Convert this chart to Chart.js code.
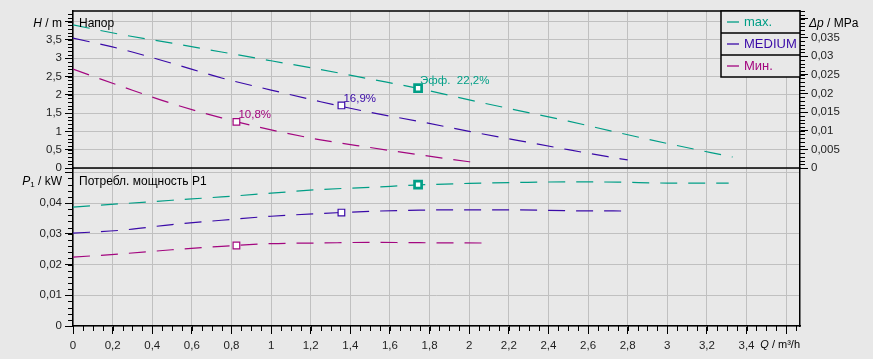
<!DOCTYPE html>
<html>
<head>
<meta charset="utf-8">
<script src="https://cdn.jsdelivr.net/npm/chart.js@4.4.1/dist/chart.umd.min.js"></script>
<style>
  html, body { margin: 0; padding: 0; background: #e8e8e8; }
  #wrap { width: 873px; height: 359px; }
</style>
</head>
<body>
<div id="wrap"><canvas id="pumpChart" width="873" height="359"></canvas></div>
<script>
// curve names and colours (max / medium / min speed)
const seriesNames = ['max.', 'MEDIUM', 'Мин.'];
const seriesColors = ['#009e86', '#3a0aa8', '#a3067f'];

// head curves, Q in m³/h, H in m
const qHMax = [0, 0.25, 0.5, 0.75, 1, 1.25, 1.5, 1.75, 2, 2.25, 2.5, 2.75, 3, 3.33];
const hMax = [3.91, 3.64, 3.41, 3.17, 2.93, 2.69, 2.43, 2.17, 1.86, 1.57, 1.28, 0.97, 0.67, 0.30];
const qHMed = [0, 0.25, 0.5, 0.75, 1, 1.25, 1.5, 1.75, 2, 2.25, 2.5, 2.7, 2.8];
const hMed = [3.55, 3.24, 2.86, 2.46, 2.13, 1.81, 1.52, 1.27, 1.00, 0.75, 0.50, 0.31, 0.22];
const qHMin = [0, 0.25, 0.5, 0.75, 1, 1.25, 1.5, 1.75, 2, 2.06];
const hMin = [2.70, 2.22, 1.76, 1.37, 1.04, 0.77, 0.56, 0.36, 0.17, 0.13];

// power curves, P1 in kW
const qPMax = [0, 0.25, 0.5, 0.75, 1, 1.25, 1.5, 1.75, 2, 2.25, 2.5, 2.75, 3, 3.31];
const pMax = [0.0387, 0.0398, 0.0409, 0.0420, 0.0432, 0.0444, 0.0451, 0.0459, 0.0464, 0.0467, 0.0469, 0.0468, 0.0465, 0.0465];
const qPMed = [0, 0.25, 0.5, 0.75, 1, 1.25, 1.5, 1.75, 2, 2.25, 2.5, 2.81];
const pMed = [0.0302, 0.0312, 0.0330, 0.0344, 0.0357, 0.0366, 0.0373, 0.0377, 0.0378, 0.0378, 0.0375, 0.0374];
const qPMin = [0, 0.25, 0.5, 0.75, 1, 1.25, 1.5, 1.75, 2.07];
const pMin = [0.0224, 0.0235, 0.0248, 0.0259, 0.0268, 0.0270, 0.0272, 0.0271, 0.0270];

// duty points (max, medium, min)
const dutyQ = [1.742, 1.355, 0.825];
const dutyH = [2.18, 1.71, 1.26];
const dutyP = [0.0460, 0.0369, 0.0262];
const dutyLabels = ['Эфф.  22,2%', '16,9%', '10,8%'];

const FONT = 'Liberation Sans, Arial, sans-serif';
const BG = '#e8e8e8';
const H_TOP = 4.29;

const pts = (xs, ys) => xs.map((x, i) => ({ x: x, y: ys[i] }));
const fmt = v => parseFloat(v.toFixed(4)).toString().replace('.', ',');

function curve(i, xs, ys, axis) {
  return {
    label: seriesNames[i], data: pts(xs, ys), yAxisID: axis, order: 2,
    borderColor: seriesColors[i], borderWidth: 1.2, borderDash: [17, 11],
    pointRadius: 0, cubicInterpolationMode: 'monotone', fill: false
  };
}
function duty(i, y, axis) {
  return {
    label: seriesNames[i] + ' duty', data: [{ x: dutyQ[i], y: y }], yAxisID: axis, order: 1,
    showLine: false, pointStyle: 'rect',
    pointRadius: i === 0 ? 5 : 4.7, pointBorderWidth: i === 0 ? 2.7 : 1.2,
    pointBackgroundColor: '#ffffff', pointBorderColor: seriesColors[i]
  };
}

const tickFont = { family: FONT, size: 11.5 };
function yAxis(extra) {
  return Object.assign({
    type: 'linear',
    grid: { color: '#c0c0c0', tickColor: '#000', tickLength: 8, lineWidth: 1 },
    border: { color: '#000', width: 1.5 },
    afterFit: s => { s.width = 73; }
  }, extra);
}

// minor tick marks, drawn from the scales
const minorTicks = [
  { id: 'x', step: 0.05 }, { id: 'yH', step: 0.1 },
  { id: 'yP', step: 0.002 }, { id: 'yDp', step: 0.001 }
];

function drawParts(ctx, parts, x, y, align) {
  let w = 0;
  parts.forEach(p => { ctx.font = p.font; w += ctx.measureText(p.t).width; });
  let cx = align === 'right' ? x - w : x;
  ctx.textAlign = 'left';
  ctx.textBaseline = 'middle';
  parts.forEach(p => {
    ctx.font = p.font;
    ctx.fillText(p.t, cx, y + (p.dy || 0));
    cx += ctx.measureText(p.t).width;
  });
}

const decor = {
  id: 'decor',
  beforeDraw(chart) {
    const ctx = chart.ctx;
    ctx.save();
    ctx.fillStyle = BG;
    ctx.fillRect(0, 0, chart.width, chart.height);
    ctx.restore();
  },
  afterDraw(chart) {
    const ctx = chart.ctx;
    const a = chart.chartArea;
    const sH = chart.scales.yH;
    ctx.save();

    // frame: top edge and panel separator
    ctx.strokeStyle = '#000';
    ctx.lineWidth = 1.5;
    ctx.beginPath();
    ctx.moveTo(a.left, a.top); ctx.lineTo(a.right, a.top);
    ctx.moveTo(a.left, sH.bottom); ctx.lineTo(a.right, sH.bottom);
    ctx.stroke();

    // minor ticks
    ctx.lineWidth = 1;
    ctx.beginPath();
    minorTicks.forEach(m => {
      const s = chart.scales[m.id];
      const n = Math.floor(s.max / m.step + 1e-6);
      for (let k = 0; k <= n; k++) {
        const v = k * m.step;
        const p = Math.round(s.getPixelForValue(v)) + 0.5;
        if (m.id === 'x') { ctx.moveTo(p, a.bottom); ctx.lineTo(p, a.bottom + 5); }
        else if (m.id === 'yDp') { ctx.moveTo(a.right, p); ctx.lineTo(a.right + 5, p); }
        else { ctx.moveTo(a.left - 5, p); ctx.lineTo(a.left, p); }
      }
    });
    ctx.stroke();

    // axis titles
    const it = 'italic 12px ' + FONT, rg = '12px ' + FONT;
    ctx.fillStyle = '#000';
    drawParts(ctx, [{ t: 'H', font: it }, { t: ' / m', font: rg }], 62, 24, 'right');
    drawParts(ctx, [{ t: 'P', font: it }, { t: '1', font: '8px ' + FONT, dy: 3 }, { t: ' / kW', font: rg }], 62, 182, 'right');
    drawParts(ctx, [{ t: 'Δp', font: it }, { t: ' / MPa', font: rg }], 809, 24, 'left');
    drawParts(ctx, [{ t: 'Q', font: 'italic 11px ' + FONT }, { t: ' / m³/h', font: '11px ' + FONT }], 800, 345, 'right');

    // panel captions
    ctx.font = '12px ' + FONT;
    ctx.fillText('Напор', a.left + 6, 24);
    ctx.fillText('Потребл. мощность P1', a.left + 6, 182);

    // duty point labels
    ctx.font = '11.5px ' + FONT;
    for (let i = 0; i < 3; i++) {
      const el = chart.getDatasetMeta(6 + i).data[0];
      ctx.fillStyle = seriesColors[i];
      ctx.fillText(dutyLabels[i], el.x + 2, el.y - 7);
    }

    // legend box
    const lw = 79, rh = 22;
    const lx = a.right - lw, ly = a.top;
    ctx.fillStyle = BG;
    ctx.fillRect(lx, ly, lw, rh * 3);
    ctx.strokeStyle = '#000';
    ctx.lineWidth = 1.5;
    ctx.strokeRect(lx, ly, lw, rh * 3);
    ctx.beginPath();
    ctx.moveTo(lx, ly + rh); ctx.lineTo(a.right, ly + rh);
    ctx.moveTo(lx, ly + 2 * rh); ctx.lineTo(a.right, ly + 2 * rh);
    ctx.stroke();
    ctx.font = '13px ' + FONT;
    for (let i = 0; i < 3; i++) {
      const cy = ly + rh * i + rh / 2;
      ctx.strokeStyle = seriesColors[i];
      ctx.lineWidth = 1.3;
      ctx.beginPath();
      ctx.moveTo(lx + 6, cy); ctx.lineTo(lx + 18, cy);
      ctx.stroke();
      ctx.fillStyle = seriesColors[i];
      ctx.fillText(seriesNames[i], lx + 23, cy);
    }
    ctx.restore();
  }
};

const datasets = [
  curve(0, qHMax, hMax, 'yH'), curve(1, qHMed, hMed, 'yH'), curve(2, qHMin, hMin, 'yH'),
  curve(0, qPMax, pMax, 'yP'), curve(1, qPMed, pMed, 'yP'), curve(2, qPMin, pMin, 'yP'),
  duty(0, dutyH[0], 'yH'), duty(1, dutyH[1], 'yH'), duty(2, dutyH[2], 'yH'),
  duty(0, dutyP[0], 'yP'), duty(1, dutyP[1], 'yP'), duty(2, dutyP[2], 'yP')
];

new Chart(document.getElementById('pumpChart'), {
  type: 'line',
  data: { datasets: datasets },
  plugins: [decor],
  options: {
    responsive: false,
    animation: false,
    devicePixelRatio: 1,
    layout: { padding: { top: 11, left: 0, right: 0, bottom: 0 } },
    plugins: { legend: { display: false }, tooltip: { enabled: false } },
    scales: {
      x: {
        type: 'linear', position: 'bottom', min: 0, max: 3.67,
        ticks: {
          stepSize: 0.2, includeBounds: false, autoSkip: false, maxRotation: 0,
          padding: 5, color: '#1e1e1e', font: tickFont,
          callback: v => Math.abs(v - 3.6) < 1e-6 ? '' : fmt(v)
        },
        grid: { color: '#c0c0c0', tickColor: '#000', tickLength: 8, lineWidth: 1 },
        border: { color: '#000', width: 1.5 },
        afterFit: s => { s.height = 33; }
      },
      yH: yAxis({
        position: 'left', stack: 'left', stackWeight: 157, weight: 2,
        min: 0, max: H_TOP,
        ticks: {
          stepSize: 0.5, includeBounds: false, autoSkip: false, padding: 3,
          color: '#1e1e1e', font: tickFont,
          callback: v => v > 3.9 ? '' : fmt(v)
        }
      }),
      yP: yAxis({
        position: 'left', stack: 'left', stackWeight: 158, weight: 1,
        min: 0, max: 0.0514,
        ticks: {
          stepSize: 0.01, includeBounds: false, autoSkip: false, padding: 3,
          color: '#1e1e1e', font: tickFont,
          callback: v => v > 0.045 ? '' : fmt(v)
        }
      }),
      yDp: yAxis({
        position: 'right', stack: 'right', stackWeight: 157, weight: 1,
        min: 0, max: H_TOP * 0.00981,
        grid: { drawOnChartArea: false, tickColor: '#000', tickLength: 8 },
        ticks: {
          stepSize: 0.005, includeBounds: false, autoSkip: false, padding: 3,
          color: '#1e1e1e', font: tickFont,
          callback: v => v > 0.0375 ? '' : fmt(v)
        }
      }),
      yR: yAxis({
        position: 'right', stack: 'right', stackWeight: 158, weight: 2,
        min: 0, max: 1,
        grid: { drawOnChartArea: false, drawTicks: false },
        ticks: { display: false }
      })
    }
  }
});
</script>
</body>
</html>
